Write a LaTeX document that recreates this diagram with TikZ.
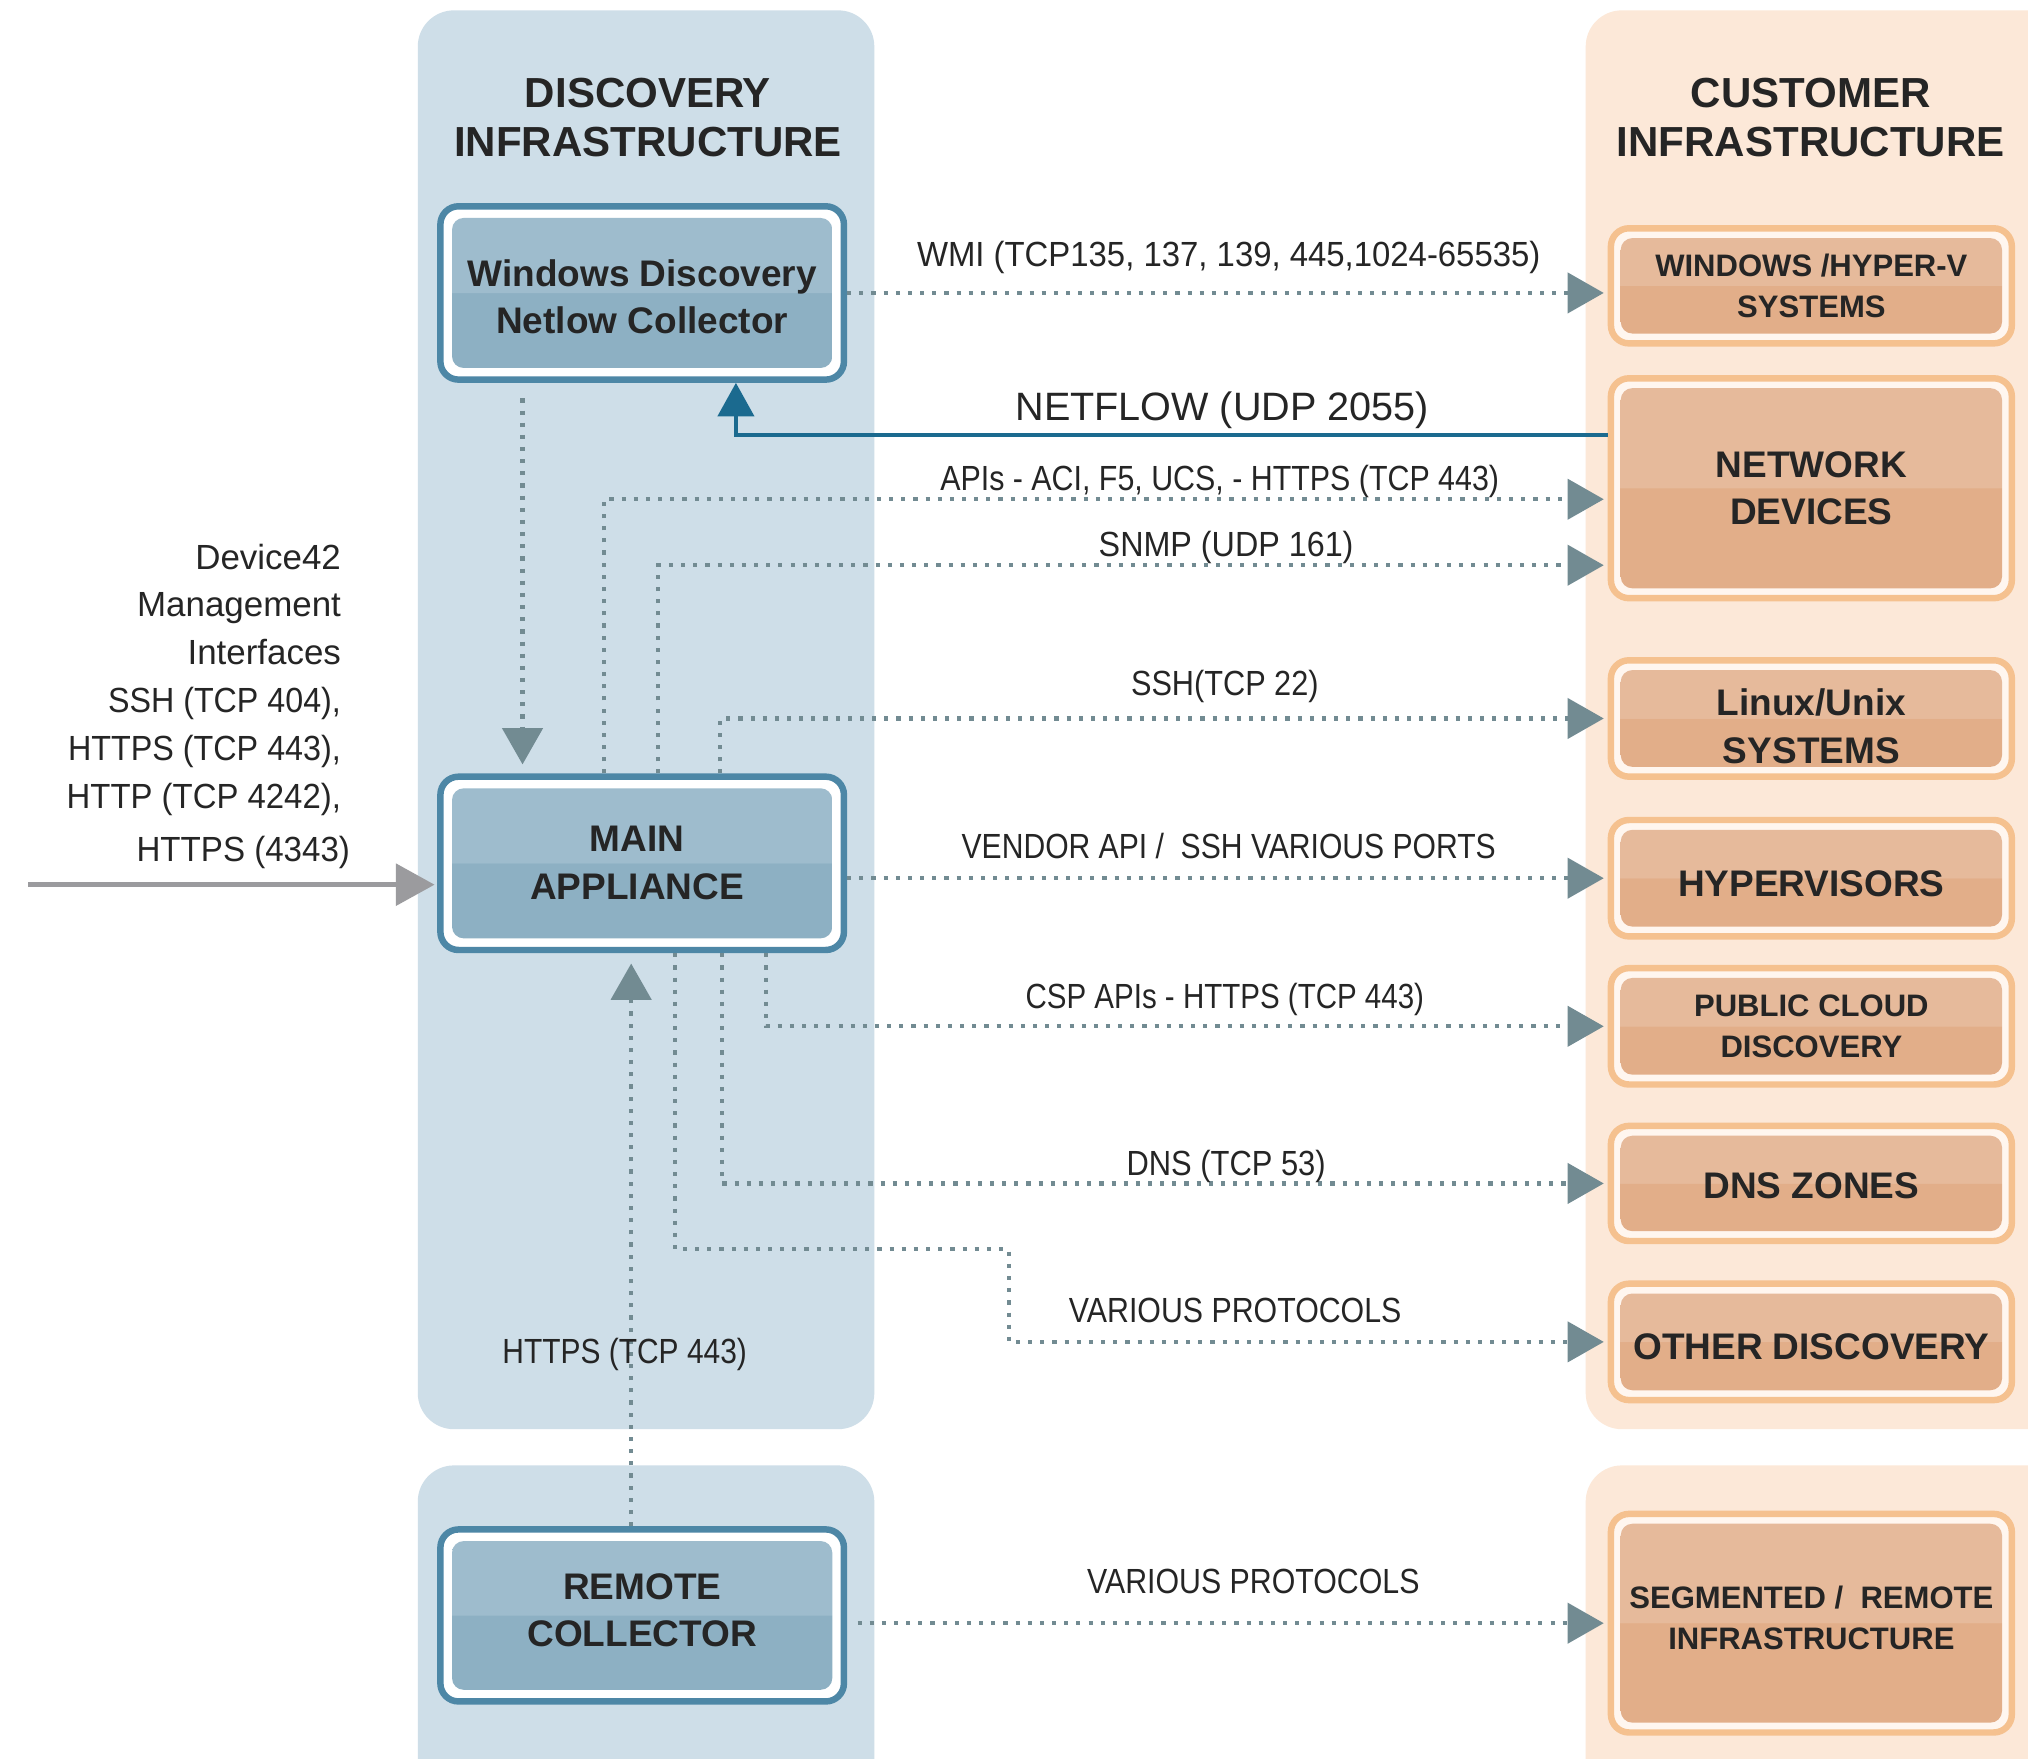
\documentclass[tikz,border=0pt]{standalone}
\usepackage{fontspec}
\setmainfont{Liberation Sans}
\usepackage{graphicx}
\usetikzlibrary{arrows.meta,calc}
\definecolor{panelblue}{HTML}{CEDEE8}
\definecolor{panelorange}{HTML}{FCE8D8}
\definecolor{bborder}{HTML}{4D87A6}
\definecolor{blight}{HTML}{9EBCCD}
\definecolor{bdark}{HTML}{8DB0C3}
\definecolor{oborder}{HTML}{F5C18F}
\definecolor{olight}{HTML}{E6BA9B}
\definecolor{odark}{HTML}{E2AE89}
\definecolor{owhite}{HTML}{FFF6EF}
\definecolor{arrowc}{HTML}{728B92}
\definecolor{nfblue}{HTML}{1B6A8F}
\definecolor{grayarr}{HTML}{9B9B9E}
\definecolor{textc}{HTML}{252525}
\pgfdeclareverticalshading{blueduo}{100bp}{color(0bp)=(bdark); color(50bp)=(bdark); color(50.2bp)=(blight); color(100bp)=(blight)}
\pgfdeclareverticalshading{orangeduo}{100bp}{color(0bp)=(odark); color(50bp)=(odark); color(50.2bp)=(olight); color(100bp)=(olight)}
\newcommand\fitw[2]{\resizebox{#1}{\height}{#2}}
\newcommand\tshift[2]{\raisebox{#1}[\height][\depth]{\parbox{150pt}{\centering #2}}}
\tikzset{
  hdr/.style={font=\bfseries\fontsize{16.25}{19}\selectfont, align=center, text=textc, inner sep=0pt},
  bbox/.style={draw=bborder, line width=2.5pt, fill=white, rounded corners=7pt, inner sep=0pt,
    align=center, text=textc, minimum width=156pt, font=\bfseries\fontsize{14.3}{18.5}\selectfont,
    path picture={\shade[shading=blueduo, rounded corners=4.5pt]
      ([shift={(4.5pt,4.5pt)}]path picture bounding box.south west) rectangle
      ([shift={(-4.5pt,-4.5pt)}]path picture bounding box.north east);}},
  obox/.style={draw=oborder, line width=2.5pt, fill=owhite, rounded corners=7pt, inner sep=0pt,
    align=center, text=textc, minimum width=155pt, font=\bfseries\fontsize{14.3}{18.5}\selectfont,
    path picture={\shade[shading=orangeduo, rounded corners=4.5pt]
      ([shift={(3.8pt,3.8pt)}]path picture bounding box.south west) rectangle
      ([shift={(-3.8pt,-3.8pt)}]path picture bounding box.north east);}},
  osmall/.style={font=\bfseries\fontsize{12}{16}\selectfont},
  lbl/.style={font=\fontsize{13.5}{16}\selectfont, text=textc, inner sep=0pt},
  dotc/.style={draw=arrowc, line width=1.6pt, dash pattern=on 1.6pt off 3.1pt,
    -{Triangle[length=14pt,width=15.5pt]}, shorten >=1.5pt},
  nfline/.style={draw=nfblue, line width=1.5pt, -{Triangle[length=13pt,width=14pt]}},
  grayline/.style={draw=grayarr, line width=2pt, -{Triangle[length=15pt,width=16pt]}, shorten >=1pt},
}
\begin{document}
\begin{tikzpicture}[x=0.5pt,y=-0.5pt]
\useasboundingbox (0,0) rectangle (1568,1360);
\clip (0,0) rectangle (1568,1360);
\fill[white] (0,0) rectangle (1568,1360);
% panels
\fill[panelblue, rounded corners=14pt] (323,8) rectangle (676,1105);
\fill[panelblue, rounded corners=14pt] (323,1133) rectangle (676,1420);
\fill[panelorange, rounded corners=14pt] (1226,8) rectangle (1640,1105);
\fill[panelorange, rounded corners=14pt] (1226,1133) rectangle (1640,1420);
% headers
\node[hdr] (dtitle) at (501,91) {DISCOVERY\\INFRASTRUCTURE};
\node[hdr] (ctitle) at (1400,91) {CUSTOMER\\INFRASTRUCTURE};
% blue boxes
\node[bbox, minimum height=67pt] (win) at (496.5,226.5) {\tshift{-1.5pt}{Windows Discovery\\Netlow Collector}};
\node[bbox, minimum height=67pt] (main) at (496.5,667.5) {\hspace*{-4pt}MAIN\\\hspace*{-4pt}APPLIANCE};
\node[bbox, minimum height=66.5pt] (remote) at (496.5,1249) {\tshift{2pt}{REMOTE\\COLLECTOR}};
% orange boxes
\node[obox, osmall, minimum height=44.5pt] (winhv) at (1400.5,221) {WINDOWS /HYPER-V\\SYSTEMS};
\node[obox, minimum height=85pt] (netdev) at (1400.5,377.5) {NETWORK\\DEVICES};
\node[obox, minimum height=45pt] (linux) at (1400.5,555.5) {\tshift{-3pt}{Linux/Unix\\SYSTEMS}};
\node[obox, minimum height=45pt] (hyperv) at (1400.5,679) {\tshift{-2pt}{HYPERVISORS}};
\node[obox, osmall, minimum height=45pt] (pubcloud) at (1400.5,793.5) {PUBLIC CLOUD\\DISCOVERY};
\node[obox, minimum height=44.5pt] (dns) at (1400.5,915) {\tshift{-1pt}{DNS ZONES}};
\node[obox, minimum height=45pt] (other) at (1400.5,1037.5) {\tshift{-2pt}{OTHER DISCOVERY}};
\node[obox, osmall, minimum height=84.5pt] (segment) at (1400.5,1255) {\tshift{2pt}{SEGMENTED /\ \ REMOTE\\INFRASTRUCTURE}};
% helper coordinates
\coordinate (xwm) at (404,0);
\coordinate (xapi) at (467,0);
\coordinate (xsnmp) at (509,0);
\coordinate (xssh) at (557,0);
\coordinate (xcsp) at (592,0);
\coordinate (xdns) at (558,0);
\coordinate (xvar) at (522,0);
\coordinate (xvar2) at (780,0);
\coordinate (xhttps) at (488,0);
\coordinate (xnf) at (569,0);
\coordinate (yapi) at (0,386);
\coordinate (ysnmp) at (0,437);
\coordinate (yvar) at (0,966);
\coordinate (ynf) at (0,336);
\coordinate (mstart) at (22,684);
% connectors
\draw[dotc] (win.east) -- (winhv.west |- win.east);
\draw[nfline] (netdev.west |- ynf) -| (win.south -| xnf);
\draw[dotc, shorten <=6pt, shorten >=3.5pt] (win.south -| xwm) -- (main.north -| xwm);
\draw[dotc] (main.north -| xapi) |- (netdev.west |- yapi);
\draw[dotc] (main.north -| xsnmp) |- (netdev.west |- ysnmp);
\draw[dotc] (main.north -| xssh) |- (linux.west);
\draw[dotc] (main.east |- hyperv.west) -- (hyperv.west);
\draw[dotc] (main.south -| xcsp) |- (pubcloud.west);
\draw[dotc] (main.south -| xdns) |- (dns.west);
\draw[dotc] (main.south -| xvar) |- (xvar2 |- yvar) |- (other.west);
\draw[dotc, shorten >=4pt] (remote.north -| xhttps) -- (main.south -| xhttps);
\draw[dotc, shorten <=4pt] (remote.east |- segment.west) -- (segment.west);
\draw[grayline] (mstart) -- (main.west |- mstart);
% labels
\node[lbl] (lwmi) at (950,199) {\fitw{241pt}{WMI (TCP135, 137, 139, 445,1024-65535)}};
\node[lbl, font=\fontsize{15.3}{18}\selectfont] (lnf) at (945,317) {NETFLOW (UDP 2055)};
\node[lbl] (lapi) at (943,372) {\fitw{216pt}{APIs - ACI, F5, UCS, - HTTPS (TCP 443)}};
\node[lbl] (lsnmp) at (948,423) {\fitw{98.5pt}{SNMP (UDP 161)}};
\node[lbl] (lssh) at (947,531) {\fitw{72.5pt}{SSH(TCP 22)}};
\node[lbl] (lvend) at (950,654) {\fitw{206.5pt}{VENDOR API /\ \ SSH VARIOUS PORTS}};
\node[lbl] (lcsp) at (947,773) {\fitw{154pt}{CSP APIs - HTTPS (TCP 443)}};
\node[lbl] (ldns) at (948,902) {\fitw{77pt}{DNS (TCP 53)}};
\node[lbl] (lvar) at (955,1013) {\fitw{128.5pt}{VARIOUS PROTOCOLS}};
\node[lbl] (lhttps) at (483,1047) {\fitw{94.5pt}{HTTPS (TCP 443)}};
\node[lbl] (lvar2) at (969,1223) {\fitw{128.5pt}{VARIOUS PROTOCOLS}};
\node[lbl, align=right, anchor=east, font=\fontsize{13.5}{18.5}\selectfont] (lmgmt) at (264,546)
  {Device42\\Management\\Interfaces\\\fitw{90pt}{SSH (TCP 404),}\\\fitw{105.5pt}{HTTPS (TCP 443),}\\\fitw{106pt}{HTTP (TCP 4242),}\\[2pt]\fitw{82.5pt}{HTTPS (4343)}\hspace*{-3.5pt}};
\end{tikzpicture}
\end{document}
